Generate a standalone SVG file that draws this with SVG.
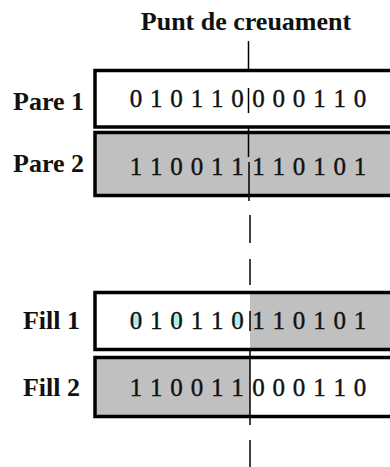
<svg xmlns="http://www.w3.org/2000/svg" width="390" height="467" viewBox="0 0 390 467">
  <style>
    .title { font-family: "Liberation Serif", "Times New Roman", serif; font-weight: bold; font-size: 26px; fill: #111; }
    .label { font-family: "Liberation Serif", "Times New Roman", serif; font-weight: bold; font-size: 26px; fill: #111; text-anchor: end; }
    .bits { font-family: "Liberation Serif", "Times New Roman", serif; font-size: 25px; fill: #111; stroke: #111; stroke-width: 0.4; text-anchor: middle; }
    .box { stroke: #000; stroke-width: 3.5; fill: none; }
    .shade { fill: #c0c0c0; }
    .cut { stroke: #000; stroke-width: 1.5; fill: none; }
    .hole { fill: #a8f0f0; }
  </style>

  <rect width="390" height="467" fill="#fff"/>

  <text class="title" x="246" y="30" text-anchor="middle">Punt de creuament</text>

  <!-- parent chromosomes -->
  <g id="pare1">
    <rect class="box" x="95" y="70.5" width="310" height="56.5"/>
    <text class="label" x="84" y="110">Pare 1</text>
    <text class="bits" x="136 156.3 176.6 196.9 217.2 237.5 258.5 278.8 299.1 319.4 339.7 360" y="107">010110000110</text>
  </g>

  <g id="pare2">
    <rect class="shade" x="95" y="132.5" width="310" height="63"/>
    <rect class="box" x="95" y="132.5" width="310" height="63"/>
    <text class="label" x="84" y="172">Pare 2</text>
    <text class="bits" x="136 156.3 176.6 196.9 217.2 237.5 258.5 278.8 299.1 319.4 339.7 360" y="174.5">110011110101</text>
  </g>

  <!-- offspring chromosomes -->
  <g id="fill1">
    <rect class="shade" x="250" y="292.5" width="155" height="57"/>
    <rect class="box" x="95" y="292.5" width="310" height="57"/>
    <ellipse class="hole" cx="136" cy="320" rx="3" ry="6"/>
    <ellipse class="hole" cx="176.6" cy="320" rx="3" ry="6"/>
    <ellipse class="hole" cx="237.5" cy="320" rx="3" ry="6"/>
    <text class="label" x="80" y="329">Fill 1</text>
    <text class="bits" x="136 156.3 176.6 196.9 217.2 237.5 258.5 278.8 299.1 319.4 339.7 360" y="328.5">010110110101</text>
  </g>

  <g id="fill2">
    <rect class="shade" x="95" y="357.5" width="155" height="59"/>
    <rect class="box" x="95" y="357.5" width="310" height="59"/>
    <text class="label" x="80" y="396">Fill 2</text>
    <text class="bits" x="136 156.3 176.6 196.9 217.2 237.5 258.5 278.8 299.1 319.4 339.7 360" y="396">110011000110</text>
  </g>

  <!-- crossover point marker -->
  <g id="connectors">
    <line class="cut" x1="248.5" y1="41" x2="248.5" y2="70"/>
    <line class="cut" x1="248.5" y1="88" x2="248.5" y2="113"/>
    <line class="cut" x1="248.5" y1="127" x2="248.5" y2="157"/>
    <line class="cut" x1="249" y1="162" x2="249" y2="201"/>
    <line class="cut" x1="250" y1="215" x2="250" y2="243"/>
    <line class="cut" x1="250" y1="259" x2="250" y2="285"/>
    <line class="cut" x1="250" y1="311" x2="250" y2="331"/>
    <line class="cut" x1="250" y1="349" x2="250" y2="425"/>
    <line class="cut" x1="250" y1="440" x2="250" y2="467"/>
  </g>
</svg>
